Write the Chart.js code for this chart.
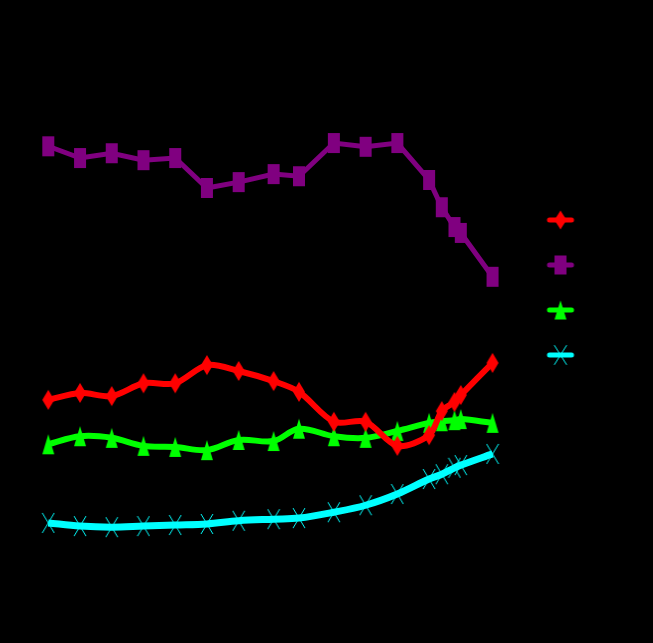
<!DOCTYPE html>
<html>
<head>
<meta charset="utf-8">
<script src="https://cdn.jsdelivr.net/npm/chart.js@4"></script>
<style>
  html, body { margin: 0; padding: 0; background: #000; }
  #wrap { width: 653px; height: 643px; position: relative; }
</style>
</head>
<body>
<div id="wrap"><canvas id="chart"></canvas></div>
<script>
// x positions (years)
const years = [1960, 1965, 1970, 1975, 1980, 1985, 1990, 1995.5, 1999.5, 2005, 2010, 2015, 2020, 2022, 2024, 2025, 2030];

const seriesNames = ['First series', 'Second series', 'Third series', 'Fourth series'];
const seriesColors = ['#ff0000', '#800080', '#00ff00', '#00ffff'];

const redValues    = [29.0, 30.3, 29.7, 32.1, 32.1, 35.5, 34.4, 32.5, 30.5, 24.9, 24.9, 20.4, 22.4, 26.9, 28.6, 29.9, 35.9];
const purpleValues = [76.4, 74.2, 75.1, 73.8, 74.2, 68.6, 69.7, 71.2, 70.8, 77.0, 76.3, 77.0, 70.1, 65.0, 61.3, 60.2, 52.0];
const greenValues  = [20.7, 22.2, 21.9, 20.4, 20.2, 19.6, 21.5, 21.3, 23.6, 22.2, 21.9, 23.2, 24.7, 25.0, 25.2, 25.4, 24.7];
const cyanValues   = [6.0, 5.4, 5.2, 5.4, 5.6, 5.8, 6.4, 6.7, 6.9, 8.0, 9.3, 11.4, 14.2, 15.1, 16.3, 16.8, 18.9];

// tall markers, drawn once on small canvases
function drawShape(ctx, kind, color, cx, cy, w, h) {
  ctx.fillStyle = color;
  ctx.strokeStyle = color;
  ctx.beginPath();
  if (kind == 'diamond') {
    ctx.moveTo(cx, cy - h / 2);
    ctx.lineTo(cx + w / 2, cy);
    ctx.lineTo(cx, cy + h / 2);
    ctx.lineTo(cx - w / 2, cy);
    ctx.closePath();
    ctx.fill();
  } else if (kind == 'rect') {
    ctx.rect(cx - w / 2, cy - h / 2, w, h);
    ctx.fill();
  } else if (kind == 'triangle') {
    ctx.moveTo(cx, cy - h / 2);
    ctx.lineTo(cx + w / 2, cy + h / 2);
    ctx.lineTo(cx - w / 2, cy + h / 2);
    ctx.closePath();
    ctx.fill();
  } else {
    ctx.lineWidth = 1;
    ctx.moveTo(cx - w / 2, cy - h / 2);
    ctx.lineTo(cx + w / 2, cy + h / 2);
    ctx.moveTo(cx + w / 2, cy - h / 2);
    ctx.lineTo(cx - w / 2, cy + h / 2);
    ctx.stroke();
  }
}

function makeMarker(kind, color) {
  const c = document.createElement('canvas');
  c.width = 14; c.height = 22;
  drawShape(c.getContext('2d'), kind, color, 7, 11, 12, 20);
  return c;
}

function makeLegendMark(kind, color) {
  const c = document.createElement('canvas');
  c.width = 30; c.height = 22;
  const ctx = c.getContext('2d');
  ctx.strokeStyle = color;
  ctx.lineWidth = 5;
  ctx.lineCap = 'round';
  ctx.beginPath();
  ctx.moveTo(4, 11);
  ctx.lineTo(26, 11);
  ctx.stroke();
  drawShape(ctx, kind, color, 15, 11, 12, 19);
  return c;
}

const kinds = ['diamond', 'rect', 'triangle', 'cross'];
const allValues = [redValues, purpleValues, greenValues, cyanValues];
const tensions = [0.3, 0, 0.35, 0.35];
const widths = [6, 5, 6, 7];

const datasets = allValues.map((vals, i) => ({
  label: seriesNames[i],
  data: vals.map((v, j) => ({ x: years[j], y: v })),
  borderColor: seriesColors[i],
  backgroundColor: seriesColors[i],
  borderWidth: widths[i],
  tension: tensions[i],
  pointStyle: makeMarker(kinds[i], seriesColors[i]),
  clip: false
}));

const legendMarks = kinds.map((k, i) => makeLegendMark(k, seriesColors[i]));

new Chart(document.getElementById('chart'), {
  type: 'line',
  data: { datasets: datasets },
  options: {
    animation: false,
    responsive: true,
    maintainAspectRatio: false,
    layout: { padding: { left: 47, top: 20, right: 0, bottom: 88 } },
    scales: {
      x: { type: 'linear', min: 1959.8, max: 2034.8, display: false },
      y: { min: 0, max: 100, display: false }
    },
    plugins: {
      tooltip: { enabled: false },
      legend: {
        position: 'right',
        maxWidth: 130,
        labels: {
          usePointStyle: true,
          color: '#000',
          padding: 30,
          font: { size: 15 },
          generateLabels: function(chart) {
            const items = Chart.defaults.plugins.legend.labels.generateLabels(chart);
            items.forEach((it, i) => {
              it.pointStyle = legendMarks[i];
              it.fontColor = '#000';
            });
            return items;
          }
        }
      }
    }
  }
});
</script>
</body>
</html>
